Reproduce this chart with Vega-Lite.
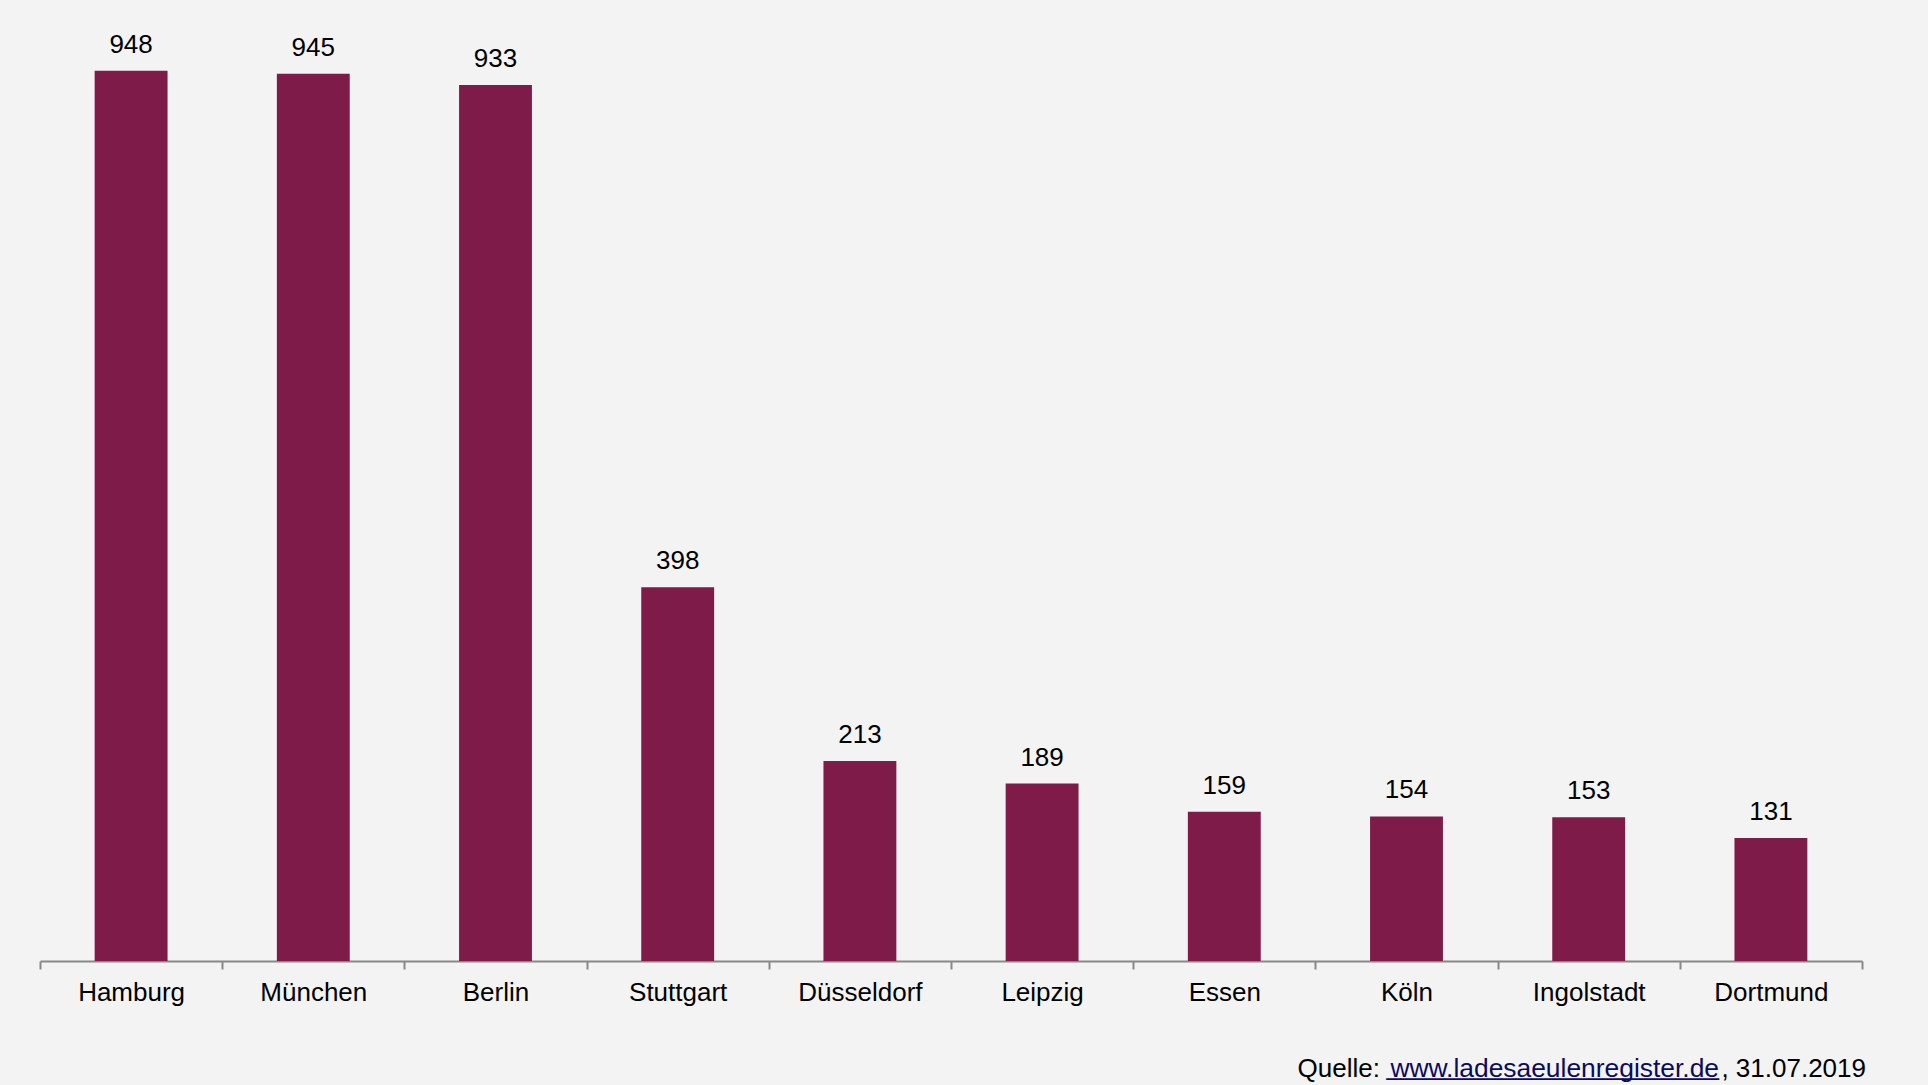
{
  "$schema": "https://vega.github.io/schema/vega-lite/v6.json",
  "width": 1822,
  "height": 939,
  "autosize": {"type": "none"},
  "padding": {"left": 40, "top": 22, "right": 66, "bottom": 124},
  "background": "#f3f3f3",
  "config": {
    "view": {"stroke": null},
    "font": "Liberation Sans",
    "text": {"font": "Liberation Sans"}
  },
  "data": {
    "values": [
      {"city": "Hamburg", "value": 948},
      {"city": "München", "value": 945},
      {"city": "Berlin", "value": 933},
      {"city": "Stuttgart", "value": 398},
      {"city": "Düsseldorf", "value": 213},
      {"city": "Leipzig", "value": 189},
      {"city": "Essen", "value": 159},
      {"city": "Köln", "value": 154},
      {"city": "Ingolstadt", "value": 153},
      {"city": "Dortmund", "value": 131}
    ]
  },
  "layer": [
    {
      "mark": {"type": "bar", "color": "#7e1b48", "width": {"band": 0.4}},
      "encoding": {
        "x": {
          "field": "city",
          "type": "nominal",
          "sort": null,
          "scale": {"paddingInner": 0, "paddingOuter": 0},
          "axis": {
            "title": null,
            "labelAngle": 0,
            "labelFont": "Liberation Sans",
            "labelFontSize": 26,
            "labelColor": "#000000",
            "labelPadding": 10,
            "domainColor": "#888888",
            "domainWidth": 2,
            "tickColor": "#888888",
            "tickWidth": 2,
            "tickSize": 8,
            "tickBand": "extent"
          }
        },
        "y": {
          "field": "value",
          "type": "quantitative",
          "scale": {"domain": [0, 1000]},
          "axis": null
        }
      }
    },
    {
      "mark": {"type": "text", "fontSize": 26, "font": "Liberation Sans", "color": "#000000", "baseline": "alphabetic", "dy": -18},
      "encoding": {
        "x": {"field": "city", "type": "nominal", "sort": null},
        "y": {"field": "value", "type": "quantitative"},
        "text": {"field": "value", "type": "quantitative"}
      }
    },
    {
      "data": {"values": [{"t": ", 31.07.2019"}]},
      "mark": {"type": "text", "fontSize": 26, "font": "Liberation Sans", "color": "#000000", "align": "right", "baseline": "alphabetic", "dx": 4, "dy": 116},
      "encoding": {
        "x": {"value": "width"},
        "y": {"value": "height"},
        "text": {"field": "t"}
      }
    },
    {
      "data": {"values": [{"t": "www.ladesaeulenregister.de"}]},
      "mark": {"type": "text", "fontSize": 26.4, "font": "Liberation Sans", "color": "#0b0b5e", "align": "right", "baseline": "alphabetic", "dx": -143, "dy": 116},
      "encoding": {
        "x": {"value": "width"},
        "y": {"value": "height"},
        "text": {"field": "t"}
      }
    },
    {
      "data": {"values": [{"t": "_______________________"}]},
      "mark": {"type": "text", "fontSize": 26, "font": "Liberation Sans", "color": "#0b0b5e", "align": "right", "baseline": "alphabetic", "dx": -143, "dy": 114},
      "encoding": {
        "x": {"value": "width"},
        "y": {"value": "height"},
        "text": {"field": "t"}
      }
    },
    {
      "data": {"values": [{"t": "Quelle:"}]},
      "mark": {"type": "text", "fontSize": 26, "font": "Liberation Sans", "color": "#000000", "align": "right", "baseline": "alphabetic", "dx": -482, "dy": 116},
      "encoding": {
        "x": {"value": "width"},
        "y": {"value": "height"},
        "text": {"field": "t"}
      }
    }
  ]
}
